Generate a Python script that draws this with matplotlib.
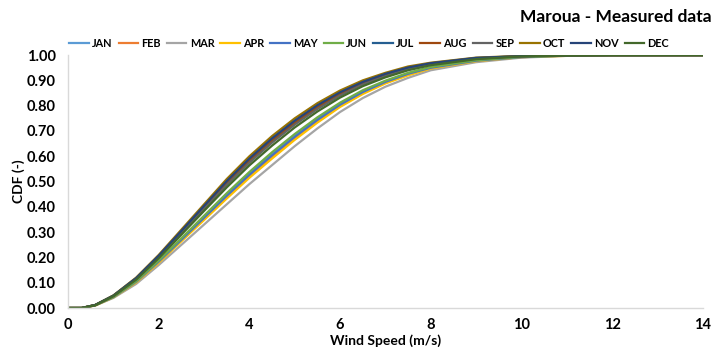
import matplotlib
matplotlib.use("Agg")
import matplotlib.pyplot as plt
from matplotlib.ticker import FormatStrFormatter, MultipleLocator

plt.rcParams["font.family"] = ["Lato", "DejaVu Sans"]

# wind speed grid (m/s) the curves were read at
speed = [0, 0.3, 0.6, 1, 1.5, 2, 2.5, 3, 3.5, 4, 4.5, 5, 5.5, 6, 6.5, 7, 7.5, 8, 9, 10, 11, 12, 14]

months = ["JAN", "FEB", "MAR", "APR", "MAY", "JUN", "JUL", "AUG", "SEP", "OCT", "NOV", "DEC"]

cdf_jan = [0, 0, 0.011, 0.044, 0.104, 0.185, 0.272, 0.360, 0.447, 0.531, 0.608, 0.681, 0.747, 0.806, 0.856, 0.895, 0.927, 0.951, 0.979, 0.993, 0.998, 0.999, 1]
cdf_feb = [0, 0, 0.011, 0.043, 0.102, 0.181, 0.267, 0.352, 0.438, 0.521, 0.597, 0.671, 0.738, 0.799, 0.850, 0.890, 0.923, 0.948, 0.977, 0.992, 0.998, 0.999, 1]
cdf_mar = [0, 0, 0.010, 0.040, 0.095, 0.170, 0.250, 0.330, 0.410, 0.490, 0.565, 0.640, 0.710, 0.775, 0.830, 0.875, 0.910, 0.940, 0.972, 0.990, 0.997, 0.999, 1]
cdf_apr = [0, 0, 0.010, 0.042, 0.101, 0.179, 0.264, 0.348, 0.433, 0.515, 0.591, 0.665, 0.733, 0.795, 0.846, 0.888, 0.920, 0.947, 0.976, 0.992, 0.997, 0.999, 1]
cdf_may = [0, 0, 0.011, 0.043, 0.104, 0.184, 0.270, 0.357, 0.444, 0.527, 0.604, 0.677, 0.744, 0.804, 0.854, 0.894, 0.926, 0.950, 0.978, 0.992, 0.998, 0.999, 1]
cdf_jun = [0, 0, 0.011, 0.044, 0.106, 0.188, 0.276, 0.365, 0.454, 0.538, 0.616, 0.688, 0.754, 0.812, 0.861, 0.899, 0.930, 0.953, 0.980, 0.993, 0.998, 0.999, 1]
cdf_jul = [0, 0, 0.012, 0.049, 0.117, 0.205, 0.303, 0.400, 0.498, 0.587, 0.666, 0.737, 0.798, 0.850, 0.892, 0.923, 0.950, 0.966, 0.988, 0.996, 0.999, 1, 1]
cdf_aug = [0, 0, 0.012, 0.048, 0.116, 0.203, 0.300, 0.396, 0.493, 0.581, 0.660, 0.731, 0.793, 0.846, 0.888, 0.921, 0.947, 0.965, 0.987, 0.996, 0.999, 1, 1]
cdf_sep = [0, 0, 0.012, 0.048, 0.114, 0.201, 0.296, 0.392, 0.487, 0.575, 0.654, 0.725, 0.787, 0.840, 0.884, 0.917, 0.945, 0.963, 0.986, 0.995, 0.999, 1, 1]
cdf_oct = [0, 0, 0.012, 0.050, 0.120, 0.210, 0.310, 0.410, 0.510, 0.600, 0.680, 0.750, 0.810, 0.860, 0.900, 0.930, 0.955, 0.970, 0.990, 0.997, 0.999, 1, 1]
cdf_nov = [0, 0, 0.012, 0.049, 0.118, 0.207, 0.305, 0.404, 0.502, 0.591, 0.671, 0.741, 0.802, 0.853, 0.894, 0.926, 0.951, 0.968, 0.989, 0.996, 0.999, 1, 1]
cdf_dec = [0, 0, 0.011, 0.047, 0.112, 0.197, 0.290, 0.384, 0.477, 0.564, 0.642, 0.714, 0.777, 0.832, 0.877, 0.912, 0.940, 0.960, 0.984, 0.995, 0.998, 1, 1]

all_cdf = [cdf_jan, cdf_feb, cdf_mar, cdf_apr, cdf_may, cdf_jun,
           cdf_jul, cdf_aug, cdf_sep, cdf_oct, cdf_nov, cdf_dec]

# excel default series colours
colors = ["#5B9BD5", "#ED7D31", "#A5A5A5", "#FFC000", "#4472C4", "#70AD47",
          "#255E91", "#9E480E", "#636363", "#997300", "#264478", "#43682B"]

fig = plt.figure(figsize=(7.17, 3.51), dpi=100)
ax = fig.add_axes([0.095, 0.1225, 0.885, 0.7205])

for name, vals, col in zip(months, all_cdf, colors):
    ax.plot(speed, vals, color=col, linewidth=1.6, label=name)

ax.set_xlim(0, 14)
ax.set_ylim(0, 1)
ax.xaxis.set_major_locator(MultipleLocator(2))
ax.yaxis.set_major_locator(MultipleLocator(0.1))
ax.yaxis.set_major_formatter(FormatStrFormatter("%.2f"))
ax.tick_params(length=0, labelsize=10.5)
ax.tick_params(axis="y", pad=9)
ax.tick_params(axis="x", pad=7)
for lab in ax.get_xticklabels() + ax.get_yticklabels():
    lab.set_fontweight("bold")

for side in ["top", "right"]:
    ax.spines[side].set_visible(False)
for side in ["left", "bottom"]:
    ax.spines[side].set_color("#D9D9D9")
    ax.spines[side].set_linewidth(1)

ax.set_xlabel("Wind Speed (m/s)", fontsize=10, fontweight="bold", labelpad=2)
ax.set_ylabel("CDF (-)", fontsize=10, fontweight="bold", labelpad=1)

fig.text(0.993, 0.952, "Maroua - Measured data", ha="right", va="center",
         fontsize=12.5, fontweight="bold")

fig.legend(loc="center", bbox_to_anchor=(0.515, 0.877), ncol=12, frameon=False,
           handlelength=1.8, handletextpad=0.3, columnspacing=0.55,
           prop={"weight": "bold", "size": 7.8})

fig.savefig("out.png", dpi=100)
